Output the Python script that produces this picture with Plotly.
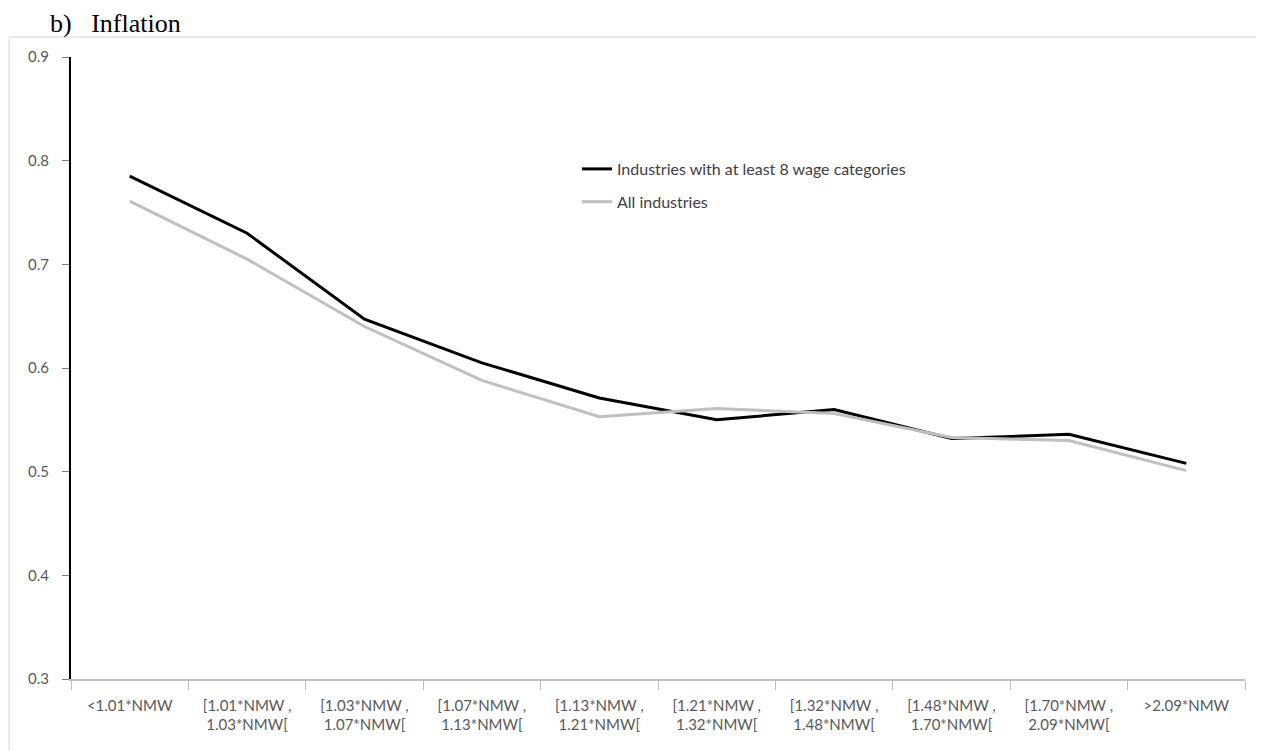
import plotly.graph_objects as go

categories = ["<1.01*NMW", "[1.01*NMW ,<br>1.03*NMW[", "[1.03*NMW ,<br>1.07*NMW[",
              "[1.07*NMW ,<br>1.13*NMW[", "[1.13*NMW ,<br>1.21*NMW[", "[1.21*NMW ,<br>1.32*NMW[",
              "[1.32*NMW ,<br>1.48*NMW[", "[1.48*NMW ,<br>1.70*NMW[", "[1.70*NMW ,<br>2.09*NMW[",
              ">2.09*NMW"]
industries_8 = [0.785, 0.730, 0.647, 0.605, 0.571, 0.550, 0.560, 0.532, 0.536, 0.508]
all_industries = [0.761, 0.705, 0.640, 0.588, 0.553, 0.561, 0.556, 0.533, 0.530, 0.501]

# page body has an 8px margin, so the figure is placed at (8, 8)
OFF = 8
W, H = 1264 - OFF, 751 - OFF
ml, mr, mt, mb = 71 - OFF, 19, 57 - OFF, 72
pw, ph = W - ml - mr, H - mt - mb

def px_x(p):
    return (p - OFF - ml) / pw

def px_y(p):
    return 1 - (p - OFF - mt) / ph

FONT = "Lato, Open Sans, sans-serif"

fig = go.Figure()
fig.add_trace(go.Scatter(x=categories, y=industries_8, mode="lines",
                         name="Industries with at least 8 wage categories",
                         legendgroup="a",
                         line=dict(color="#000000", width=3)))
fig.add_trace(go.Scatter(x=categories, y=all_industries, mode="lines",
                         name="All industries", legendgroup="b",
                         line=dict(color="#BFBFBF", width=3)))

fig.update_layout(
    width=W, height=H,
    margin=dict(l=ml, r=mr, t=mt, b=mb, autoexpand=False),
    paper_bgcolor="white", plot_bgcolor="white",
    font=dict(family=FONT, size=15, color="#595959"),
    showlegend=True,
    legend=dict(x=px_x(577), y=px_y(152), xanchor="left", yanchor="top",
                bgcolor="rgba(0,0,0,0)", font=dict(family=FONT, size=16, color="#404040"),
                tracegroupgap=9, itemwidth=30),
    xaxis=dict(type="category", range=[-0.5, 9.5], tickson="boundaries",
               ticks="outside", ticklen=9, tickcolor="#BFBFBF",
               showline=True, linecolor="#BFBFBF", linewidth=1.5,
               showgrid=False, zeroline=False, ticklabelstandoff=12,
               tickfont=dict(family=FONT, size=15, color="#595959")),
    yaxis=dict(range=[0.3, 0.9], dtick=0.1, tick0=0.3, tickformat=".1f",
               ticks="outside", ticklen=7, tickcolor="#7F7F7F",
               showline=True, linecolor="#000000", linewidth=2,
               showgrid=False, zeroline=False, ticklabelstandoff=10,
               tickfont=dict(family=FONT, size=15, color="#595959")),
    shapes=[dict(type="rect", xref="paper", yref="paper",
                 x0=px_x(9), x1=px_x(1262), y0=px_y(37), y1=px_y(770),
                 line=dict(color="#D9D9D9", width=1), layer="below")],
    annotations=[dict(text="b)&nbsp;&nbsp;&nbsp;Inflation", xref="paper", yref="paper",
                      x=px_x(49), y=px_y(8), borderpad=0,
                      xanchor="left", yanchor="top", showarrow=False,
                      font=dict(family="Liberation Serif, Times New Roman, serif",
                                size=26, color="#000000"))],
)

fig.write_html("out.html")
